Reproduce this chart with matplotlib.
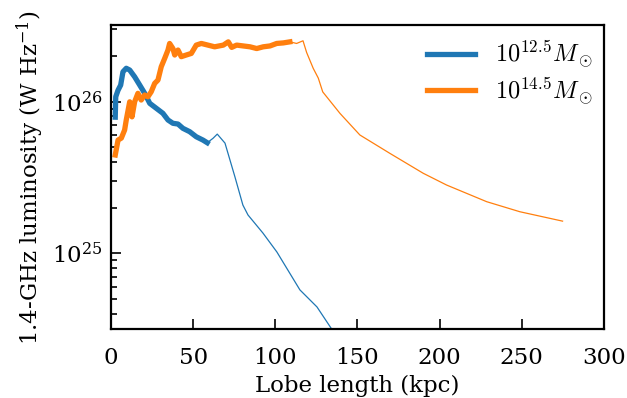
import matplotlib
matplotlib.use("Agg")
import matplotlib.pyplot as plt
from matplotlib.font_manager import FontProperties
from matplotlib.ticker import NullFormatter

plt.rcParams["font.family"] = "DejaVu Serif"
plt.rcParams["mathtext.fontset"] = "dejavuserif"
plt.rcParams["font.size"] = 16.5

# Lobe length (kpc) and 1.4-GHz luminosity (W/Hz), 10^12.5 Msun halo
len_lo = [2.6, 2.9, 4.3, 5.9, 7.3, 9.3, 11.4, 14.4, 17.5, 20.5, 23.6, 27.6,
          31.6, 34.7, 37.7, 40.8, 43.8, 47.9, 51.9, 56.0, 58.6, 62.1, 64.7,
          69.4, 75.5, 80.3, 83.4, 92.5, 101.0, 115.0, 125.4, 133.9, 137.0]
lum_lo = [7.9e25, 1.077e26, 1.19e26, 1.286e26, 1.574e26, 1.66e26, 1.616e26,
          1.459e26, 1.286e26, 1.136e26, 9.75e25, 9.04e25, 8.38e25, 7.57e25,
          7.2e25, 7.12e25, 6.67e25, 6.34e25, 5.87e25, 5.58e25, 5.36e25,
          5.73e25, 6.11e25, 5.33e25, 3.18e25, 2.08e25, 1.79e25, 1.36e25,
          1.02e25, 5.74e24, 4.43e24, 3.22e24, 2.8e24]

# same for the 10^14.5 Msun halo
len_hi = [2.6, 4.3, 6.3, 8.3, 9.3, 11.4, 12.8, 14.4, 16.4, 18.4, 20.5, 22.5,
          24.5, 26.6, 28.6, 30.6, 32.7, 34.7, 35.7, 37.7, 38.8, 40.8, 42.8,
          45.8, 48.9, 51.9, 55.0, 59.0, 63.1, 68.4, 71.4, 73.5, 76.5, 80.5,
          84.6, 88.7, 92.7, 96.8, 100.9, 104.9, 108.9, 113.0, 116.9, 119.1,
          123.1, 126.2, 128.9, 139.4, 151.5, 169.8, 190.1, 204.3, 228.7,
          248.9, 274.9]
lum_hi = [4.45e25, 5.58e25, 5.75e25, 6.5e25, 7.57e25, 9.98e25, 7.94e25,
          9.98e25, 1.135e26, 1.025e26, 1.106e26, 1.077e26, 1.162e26, 1.32e26,
          1.388e26, 1.7e26, 1.93e26, 2.19e26, 2.42e26, 2.24e26, 2.03e26,
          2.19e26, 1.98e26, 2.03e26, 2.08e26, 2.36e26, 2.42e26, 2.36e26,
          2.3e26, 2.36e26, 2.48e26, 2.28e26, 2.36e26, 2.33e26, 2.3e26,
          2.24e26, 2.3e26, 2.33e26, 2.42e26, 2.44e26, 2.48e26, 2.42e26,
          2.52e26, 2.11e26, 1.66e26, 1.43e26, 1.16e26, 8.37e25, 6.03e25,
          4.56e25, 3.37e25, 2.82e25, 2.19e25, 1.88e25, 1.63e25]

# thick part of each track ends here
n_thick_lo = 21
n_thick_hi = 41

labels = [r"$10^{12.5}M_\odot$", r"$10^{14.5}M_\odot$"]

fig = plt.figure(figsize=(6.27, 3.98), dpi=100)
ax = fig.add_axes([0.177, 0.173, 0.786, 0.764])

ax.plot(len_lo, lum_lo, color="C0", lw=0.9)
ax.plot(len_lo[:n_thick_lo], lum_lo[:n_thick_lo], color="C0", lw=3.8,
        label=labels[0])
ax.plot(len_hi, lum_hi, color="C1", lw=0.9)
ax.plot(len_hi[:n_thick_hi], lum_hi[:n_thick_hi], color="C1", lw=3.8,
        label=labels[1])

ax.set_yscale("log")
ax.set_xlim(0, 300)
ax.set_ylim(10**24.5, 10**26.505)
ax.yaxis.set_minor_formatter(NullFormatter())

ax.tick_params(which="both", direction="in", width=1.2)
ax.tick_params(which="major", length=7, pad=6)
ax.tick_params(axis="x", which="major", pad=13)
ax.tick_params(which="minor", length=4)
for s in ax.spines.values():
    s.set_linewidth(1.6)

ax.set_xlabel("Lobe length (kpc)", labelpad=4)
ax.set_ylabel(r"1.4-GHz luminosity (W Hz$^{-1}$)")

ax.legend(loc="upper right", frameon=False,
          prop=FontProperties(size=17.5, math_fontfamily="cm"),
          handlelength=2.0, labelspacing=0.2, borderaxespad=0.15,
          bbox_to_anchor=(1.005, 1.0))

fig.savefig("out.png", dpi=100)
